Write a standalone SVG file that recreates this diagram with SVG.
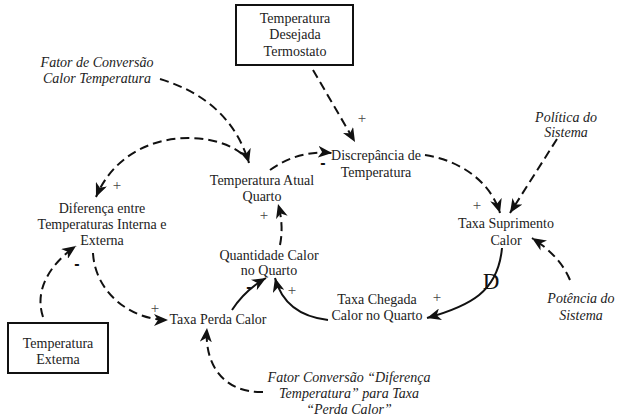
<svg xmlns="http://www.w3.org/2000/svg" width="617" height="419" viewBox="0 0 617 419">
<defs>
<marker id="ah" markerUnits="userSpaceOnUse" markerWidth="15" markerHeight="12" refX="14" refY="6" orient="auto">
<path d="M0,0 L14,6 L0,12 L4,6 z" fill="#111" stroke="none"/>
</marker>
<style>
.t{font-size:14px;fill:#222;text-anchor:middle}
.i{font-style:italic}
.box{fill:#fff;stroke:#111;stroke-width:2}
.d{fill:none;stroke:#111;stroke-width:2;stroke-dasharray:9,5;marker-end:url(#ah)}
.s{fill:none;stroke:#111;stroke-width:2;marker-end:url(#ah)}
.p{font-size:15px;fill:#444;text-anchor:middle}
.m{font-size:16px;font-weight:bold;fill:#111;text-anchor:middle}
</style>
</defs>
<rect width="617" height="419" fill="#fff"/>
<g font-family="'Liberation Serif', 'Times New Roman', serif">
<g id="connectors">
<path class="d" d="M313,70 L355,142"/>
<path class="d" d="M270,170 Q298,150 332,153"/>
<path class="d" d="M425,155 C458,160 490,180 500,213"/>
<path class="d" d="M557,139 L510,213"/>
<path class="d" d="M570,280 Q560,256 532,238"/>
<path class="d" d="M160,79 Q230,100 249,163"/>
<path class="d" d="M242,154 C210,128 125,128 96,197"/>
<path class="d" d="M280,245 Q284,225 278,204"/>
<path class="s" d="M232,310 Q245,290 266,278"/>
<path class="s" d="M328,320 Q285,315 275,278"/>
<path class="s" d="M502,248 C498,292 470,306 427,318"/>
<path class="d" d="M43,317 C34,290 50,264 76,246"/>
<path class="d" d="M93,253 C95,292 130,320 168,320"/>
<path class="d" d="M263,392 C224,393 204,365 207,328"/>
<text class="p" x="362" y="123">+</text>
<text class="m" x="323" y="168" font-family="'Liberation Sans', sans-serif">-</text>
<text class="p" x="477" y="210">+</text>
<text class="p" x="117" y="190">+</text>
<text class="p" x="264" y="220">+</text>
<text class="m" x="249" y="292" font-family="'Liberation Sans', sans-serif">-</text>
<text class="p" x="292" y="295">+</text>
<text class="p" x="437" y="302">+</text>
<text class="m" x="77" y="269" font-family="'Liberation Sans', sans-serif">-</text>
<text class="p" x="155" y="313">+</text>
<text x="491" y="289" font-size="23" fill="#111" text-anchor="middle">D</text>
</g>
<g id="n-desejada">
<rect class="box" x="236" y="5" width="117" height="60"/>
<text class="t" x="295" y="23">Temperatura</text>
<text class="t" x="295" y="39">Desejada</text>
<text class="t" x="295" y="56">Termostato</text>
</g>
<g id="n-fator-calor">
<text class="t i" x="97" y="67">Fator de Conversão</text>
<text class="t i" x="97" y="83">Calor Temperatura</text>
</g>
<g id="n-temp-atual">
<text class="t" x="262" y="185">Temperatura Atual</text>
<text class="t" x="262" y="201">Quarto</text>
</g>
<g id="n-discrepancia">
<text class="t" x="376" y="160">Discrepância de</text>
<text class="t" x="376" y="177">Temperatura</text>
</g>
<g id="n-politica">
<text class="t i" x="566" y="122">Política do</text>
<text class="t i" x="566" y="137">Sistema</text>
</g>
<g id="n-suprimento">
<text class="t" x="506" y="228">Taxa Suprimento</text>
<text class="t" x="506" y="245">Calor</text>
</g>
<g id="n-diferenca">
<text class="t" x="102" y="213">Diferença entre</text>
<text class="t" x="102" y="229">Temperaturas Interna e</text>
<text class="t" x="102" y="245">Externa</text>
</g>
<g id="n-quantidade">
<text class="t" x="269" y="260">Quantidade Calor</text>
<text class="t" x="269" y="275">no Quarto</text>
</g>
<g id="n-perda">
<text class="t" x="218" y="324">Taxa Perda Calor</text>
</g>
<g id="n-chegada">
<text class="t" x="377" y="304">Taxa Chegada</text>
<text class="t" x="377" y="320">Calor no Quarto</text>
</g>
<g id="n-potencia">
<text class="t i" x="581" y="303">Potência do</text>
<text class="t i" x="581" y="320">Sistema</text>
</g>
<g id="n-externa">
<rect class="box" x="8" y="323" width="100" height="50"/>
<text class="t" x="58" y="348">Temperatura</text>
<text class="t" x="58" y="364">Externa</text>
</g>
<g id="n-fator-perda">
<text class="t i" x="349" y="382">Fator Conversão “Diferença</text>
<text class="t i" x="349" y="398">Temperatura” para Taxa</text>
<text class="t i" x="349" y="414">“Perda Calor”</text>
</g>
</g>
</svg>
